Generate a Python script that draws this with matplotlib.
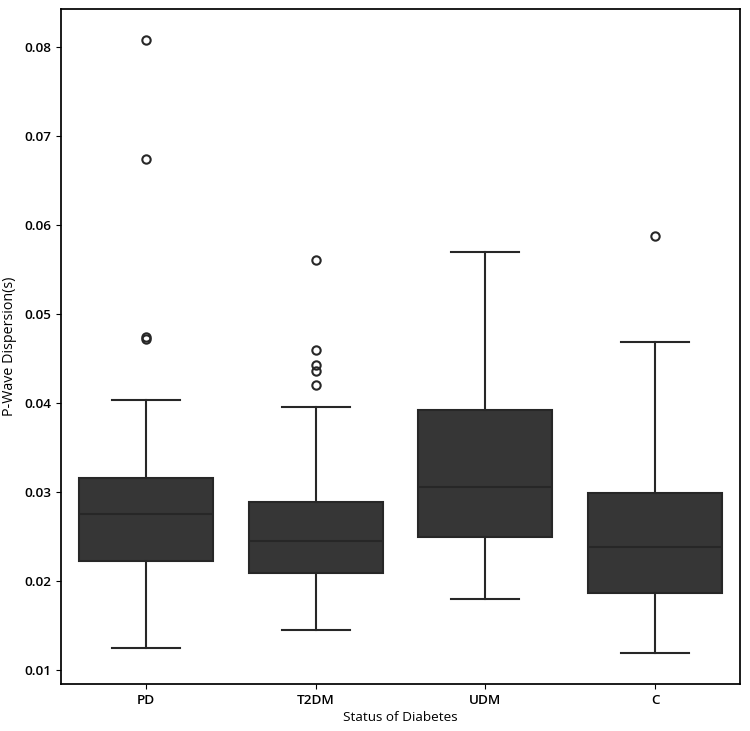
import matplotlib
matplotlib.use("Agg")
import matplotlib.pyplot as plt

plt.rcParams["font.family"] = "Open Sans"
plt.rcParams["font.weight"] = "semibold"

groups = ["PD", "T2DM", "UDM", "C"]
whislo = [0.01246, 0.01448, 0.01795, 0.0119]
q1 = [0.02221, 0.02086, 0.0249, 0.01862]
med = [0.02758, 0.02456, 0.03061, 0.02378]
q3 = [0.03162, 0.02893, 0.03923, 0.02994]
whishi = [0.04035, 0.03957, 0.05693, 0.04685]
fliers = [
    [0.04718, 0.04745, 0.06734, 0.08078],
    [0.04207, 0.04363, 0.04427, 0.04595, 0.05603],
    [],
    [0.05872],
]

stats = []
for i, g in enumerate(groups):
    stats.append(dict(label=g, whislo=whislo[i], q1=q1[i], med=med[i],
                      q3=q3[i], whishi=whishi[i], fliers=fliers[i]))

fig = plt.figure(figsize=(7.5, 7.31), dpi=100)
ax = fig.add_axes([0.0813, 0.0643, 0.9054, 0.9234])

line_c = "#272727"
lw = 1.5
ax.bxp(stats, positions=range(len(groups)), widths=0.79, patch_artist=True,
       boxprops=dict(facecolor="#363636", edgecolor=line_c, linewidth=lw),
       whiskerprops=dict(color=line_c, linewidth=lw),
       capprops=dict(color=line_c, linewidth=lw),
       medianprops=dict(color=line_c, linewidth=lw),
       flierprops=dict(marker="o", markerfacecolor="none", markeredgecolor=line_c,
                       markersize=6, markeredgewidth=1.5),
       capwidths=0.4)

ax.set_xlim(-0.5, 3.5)
ax.set_xticks(range(len(groups)))
ax.set_xticklabels(groups)
ax.set_xlabel("Status of Diabetes", fontsize=9.7, labelpad=3)
ax.set_ylabel("P-Wave Dispersion(s)", fontsize=10.3, labelpad=5)
ax.set_yticks([0.01, 0.02, 0.03, 0.04, 0.05, 0.06, 0.07, 0.08])
ax.tick_params(labelsize=9.7)
for s in ax.spines.values():
    s.set_linewidth(1.25)

fig.savefig("out.png", dpi=100)
